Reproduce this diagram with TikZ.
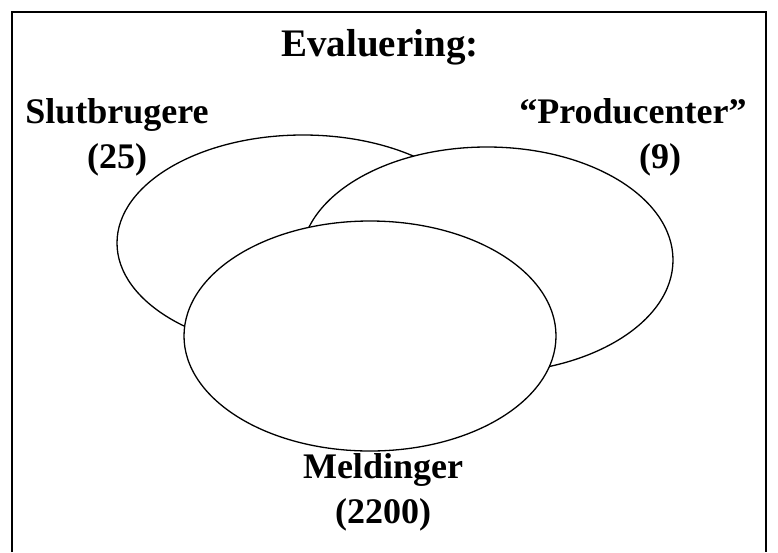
\documentclass[tikz,border=0pt]{standalone}
\usepackage{fontspec}
\setmainfont{Liberation Serif}
\usetikzlibrary{shapes}

\begin{document}
\begin{tikzpicture}[x=1pt, y=-1pt, thick,
  venn/.style={ellipse, draw=black, line width=1.3pt, fill=white, inner sep=0pt,
    minimum width=372pt, minimum height=224pt},
  lbl/.style={anchor=base, inner sep=0pt, font=\bfseries\fontsize{36}{42}\selectfont}]

\useasboundingbox (0,0) rectangle (778,552);

% open frame round the diagram
\draw [line width=2pt] (12,552) -- (12,12) -- (766,12) -- (766,552);

% the three sets
\node[venn, minimum height=216pt] (slut) at (303,243) {};
\node[venn, minimum height=226pt] (prod) at (487,260) {};
\node[venn, minimum height=230pt] (meld) at (370,336) {};

% labels
\node[lbl, font=\bfseries\fontsize{39}{46}\selectfont] (title) at (380,56) {Evaluering:};
\node[lbl] (slutname) at (117,123) {Slutbrugere};
\node[lbl] (slutnum)  at (117,168) {(25)};
\node[lbl] (prodname) at (633,123) {“Producenter”};
\node[lbl] (prodnum)  at (660,168) {(9)};
\node[lbl] (meldname) at (383,478) {Meldinger};
\node[lbl] (meldnum)  at (383,523) {(2200)};

\end{tikzpicture}
\end{document}
